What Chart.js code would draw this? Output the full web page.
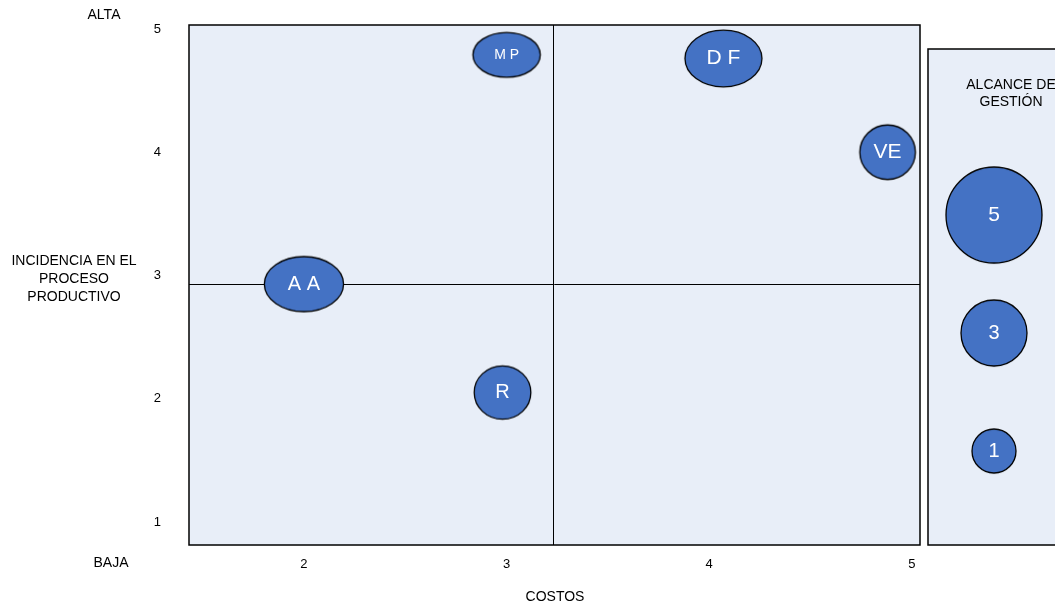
<!DOCTYPE html>
<html>
<head>
<meta charset="utf-8">
<script src="https://cdn.jsdelivr.net/npm/chart.js@4.4.1/dist/chart.umd.min.js"></script>
<style>
  html, body { margin: 0; padding: 0; background: #fff; overflow: hidden; }
  #wrap { position: relative; width: 1055px; height: 605px; overflow: hidden; }
  #main { position: absolute; left: 0; top: 0; }
  #leyenda { position: absolute; left: 920px; top: 40px; }
</style>
</head>
<body>
<div id="wrap">
  <canvas id="main" width="1055" height="605"></canvas>
  <canvas id="leyenda" width="148" height="520"></canvas>
</div>
<script>
// ---- datos ----
const factores = ['A A', 'M P', 'D F', 'VE', 'R'];
const costos = [2, 3, 4.07, 4.88, 2.98];
const incidencia = [2.93, 4.79, 4.76, 4.0, 2.05];
const alcance = [3, 2, 3, 2, 2];
const costosTicks = [2, 3, 4, 5];
const incidenciaTicks = [1, 2, 3, 4, 5];
const divisionCostos = 3.23;
const divisionIncidencia = 2.93;
const alcanceLeyenda = [5, 3, 1];

// ---- estilo ----
const AZUL = '#4472C4';
const FONDO = '#E8EEF8';
const FUENTE = '"Liberation Sans", Arial, sans-serif';
const diametro = { 1: 44, 2: 55, 3: 66, 4: 81, 5: 96 };   // px por nivel de alcance
const proporcion = [1.44, 1.5, 1.36, 1.02, 1.06];          // ancho/alto de cada elipse
const tamTexto = [20, 14, 21, 21, 20];
const tamTextoLeyenda = [21, 20, 20];

// elipse azul con contorno negro, usada como pointStyle
function burbuja(ancho, alto) {
  const c = document.createElement('canvas');
  c.width = Math.ceil(ancho) + 4;
  c.height = Math.ceil(alto) + 4;
  const g = c.getContext('2d');
  g.beginPath();
  g.ellipse(c.width / 2, c.height / 2, ancho / 2, alto / 2, 0, 0, Math.PI * 2);
  g.fillStyle = AZUL;
  g.fill();
  g.lineWidth = 1.3;
  g.strokeStyle = '#000';
  g.stroke();
  return c;
}

function textoCentrado(ctx, txt, x, y, size, color) {
  ctx.font = size + 'px ' + FUENTE;
  ctx.fillStyle = color;
  ctx.textAlign = 'center';
  ctx.textBaseline = 'middle';
  ctx.fillText(txt, x, y);
}

const estilos = factores.map((_, i) => {
  const d = diametro[alcance[i]];
  const k = Math.sqrt(proporcion[i]);
  return burbuja(d * k, d / k);
});

// fondo, cuadrantes, etiquetas y títulos de ejes
const matriz = {
  id: 'matriz',
  beforeDatasetsDraw(chart) {
    const { ctx, chartArea: a, scales: { x, y } } = chart;
    ctx.save();
    ctx.fillStyle = FONDO;
    ctx.fillRect(a.left, a.top, a.width, a.height);
    ctx.strokeStyle = '#000';
    ctx.lineWidth = 1;
    const px = Math.round(x.getPixelForValue(divisionCostos)) + 0.5;
    const py = Math.round(y.getPixelForValue(divisionIncidencia)) + 0.5;
    ctx.beginPath();
    ctx.moveTo(px, a.top); ctx.lineTo(px, a.bottom);
    ctx.moveTo(a.left, py); ctx.lineTo(a.right, py);
    ctx.stroke();
    ctx.lineWidth = 1.5;
    ctx.strokeRect(a.left, a.top, a.width, a.height);
    ctx.restore();
  },
  afterDatasetsDraw(chart) {
    const ctx = chart.ctx;
    const meta = chart.getDatasetMeta(0);
    ctx.save();
    meta.data.forEach((el, i) => {
      textoCentrado(ctx, factores[i], el.x, el.y, tamTexto[i], '#fff');
    });
    ctx.restore();
  },
  afterDraw(chart) {
    const ctx = chart.ctx;
    ctx.save();
    textoCentrado(ctx, 'ALTA', 104, 15, 14, '#000');
    textoCentrado(ctx, 'INCIDENCIA EN EL', 74, 261, 14, '#000');
    textoCentrado(ctx, 'PROCESO', 74, 279, 14, '#000');
    textoCentrado(ctx, 'PRODUCTIVO', 74, 297, 14, '#000');
    textoCentrado(ctx, 'BAJA', 111, 563, 14, '#000');
    textoCentrado(ctx, 'COSTOS', 555, 597, 14, '#000');
    ctx.restore();
  }
};

// el área del gráfico la fijan sólo el padding del layout y los tamaños de eje
function sinRelleno(s) {
  s.paddingTop = 0; s.paddingBottom = 0;
  s.paddingLeft = 0; s.paddingRight = 0;
}

new Chart(document.getElementById('main'), {
  type: 'scatter',
  data: {
    datasets: [{
      data: costos.map((c, i) => ({ x: c, y: incidencia[i] })),
      pointStyle: estilos,
      pointRadius: 1
    }]
  },
  options: {
    responsive: false,
    animation: false,
    events: [],
    layout: { autoPadding: false, padding: { left: 0, top: 25, right: 135, bottom: 0 } },
    plugins: { legend: { display: false }, tooltip: { enabled: false } },
    scales: {
      x: {
        type: 'linear', min: 1.433, max: 5.04,
        grid: { display: false, drawTicks: false },
        border: { display: false },
        afterBuildTicks: s => { s.ticks = costosTicks.map(v => ({ value: v })); },
        afterFit: s => { s.height = 60; sinRelleno(s); },
        ticks: { padding: 12, color: '#000', font: { family: FUENTE, size: 13 } }
      },
      y: {
        type: 'linear', min: 0.813, max: 5.032,
        grid: { display: false, drawTicks: false },
        border: { display: false },
        afterBuildTicks: s => { s.ticks = incidenciaTicks.map(v => ({ value: v })); },
        afterFit: s => { s.width = 189; sinRelleno(s); },
        ticks: { padding: 28, color: '#000', font: { family: FUENTE, size: 13 } }
      }
    }
  },
  plugins: [matriz]
});

// leyenda de alcance de gestión
const marcoLeyenda = {
  id: 'marcoLeyenda',
  beforeDatasetsDraw(chart) {
    const ctx = chart.ctx;
    ctx.save();
    ctx.fillStyle = FONDO;
    ctx.fillRect(8, 9, 160, 496);
    ctx.strokeStyle = '#000';
    ctx.lineWidth = 1.5;
    ctx.strokeRect(8, 9, 160, 496);
    textoCentrado(ctx, 'ALCANCE DE', 91, 45, 14, '#000');
    textoCentrado(ctx, 'GESTIÓN', 91, 62, 14, '#000');
    ctx.restore();
  },
  afterDatasetsDraw(chart) {
    const ctx = chart.ctx;
    const meta = chart.getDatasetMeta(0);
    ctx.save();
    meta.data.forEach((el, i) => {
      textoCentrado(ctx, String(alcanceLeyenda[i]), el.x, el.y, tamTextoLeyenda[i], '#fff');
    });
    ctx.restore();
  }
};

new Chart(document.getElementById('leyenda'), {
  type: 'scatter',
  data: {
    datasets: [{
      data: alcanceLeyenda.map(v => ({ x: 0, y: v })),
      pointStyle: alcanceLeyenda.map(v => burbuja(diametro[v], diametro[v])),
      pointRadius: 1,
      clip: false
    }]
  },
  options: {
    responsive: false,
    animation: false,
    events: [],
    layout: { autoPadding: false, padding: 0 },
    plugins: { legend: { display: false }, tooltip: { enabled: false } },
    scales: {
      x: { display: false, min: -1, max: 1 },
      y: { display: false, min: -0.847, max: 7.966 }
    }
  },
  plugins: [marcoLeyenda]
});
</script>
</body>
</html>
